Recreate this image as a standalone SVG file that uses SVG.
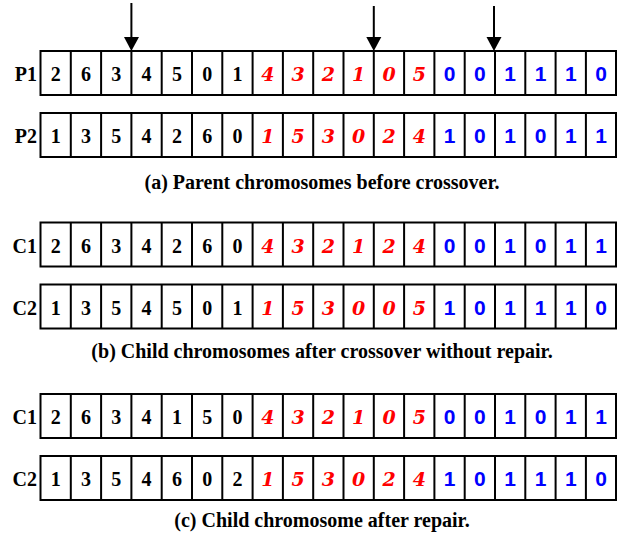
<svg xmlns="http://www.w3.org/2000/svg" xmlns:xlink="http://www.w3.org/1999/xlink" width="621" height="535" viewBox="0 0 621 535">
<style>
.cell{fill:#fff;stroke:#000;stroke-width:2}
.div{fill:none;stroke:#000;stroke-width:2}
text{text-anchor:middle}
.k{font-family:'Liberation Serif',serif;font-weight:bold;font-size:20px;fill:#000}
.r{font-family:'DejaVu Serif',serif;font-weight:bold;font-style:italic;font-size:19px;fill:#f00}
.u{font-family:'Liberation Sans',sans-serif;font-weight:bold;font-size:21px;fill:#00f}
.lab{font-family:'Liberation Serif',serif;font-weight:bold;font-size:20px;fill:#000;text-anchor:end}
.cap{font-family:'Liberation Serif',serif;font-weight:bold;font-size:20px;fill:#000}
.arr{stroke:#000;stroke-width:2}
</style>
<defs>
<g id="cells">
<rect class="cell" x="40.5" y="0" width="575.5" height="44"/>
<path class="div" d="M70.8 0V44M101.1 0V44M131.4 0V44M161.7 0V44M192 0V44M222.3 0V44M252.6 0V44M282.9 0V44M313.2 0V44M343.5 0V44M373.8 0V44M404.1 0V44M434.4 0V44M464.7 0V44M495 0V44M525.3 0V44M555.6 0V44M585.9 0V44"/>
</g>
</defs>

<g id="connectors">
<line class="arr" x1="131.4" y1="3" x2="131.4" y2="40"/>
<polygon points="124,37 139,37 131.4,51" fill="#000"/>
<line class="arr" x1="373.8" y1="6" x2="373.8" y2="40"/>
<polygon points="366.3,37 381.3,37 373.8,51" fill="#000"/>
<line class="arr" x1="494" y1="6" x2="494" y2="40"/>
<polygon points="486.5,37 501.5,37 494,51" fill="#000"/>
</g>

<g id="P1" transform="translate(0,51)">
<use xlink:href="#cells"/>
<text class="lab" x="37" y="30">P1</text>
<g class="k"><text x="55.7" y="30">2</text><text x="86" y="30">6</text><text x="116.3" y="30">3</text><text x="146.6" y="30">4</text><text x="176.9" y="30">5</text><text x="207.2" y="30">0</text><text x="237.5" y="30">1</text></g>
<g class="r"><text x="267.8" y="30">4</text><text x="298.1" y="30">3</text><text x="328.4" y="30">2</text><text x="358.7" y="30">1</text><text x="389" y="30">0</text><text x="419.3" y="30">5</text></g>
<g class="u"><text x="449.6" y="30">0</text><text x="479.9" y="30">0</text><text x="510.2" y="30">1</text><text x="540.5" y="30">1</text><text x="570.8" y="30">1</text><text x="601.1" y="30">0</text></g>
</g>

<g id="P2" transform="translate(0,113)">
<use xlink:href="#cells"/>
<text class="lab" x="37" y="30">P2</text>
<g class="k"><text x="55.7" y="30">1</text><text x="86" y="30">3</text><text x="116.3" y="30">5</text><text x="146.6" y="30">4</text><text x="176.9" y="30">2</text><text x="207.2" y="30">6</text><text x="237.5" y="30">0</text></g>
<g class="r"><text x="267.8" y="30">1</text><text x="298.1" y="30">5</text><text x="328.4" y="30">3</text><text x="358.7" y="30">0</text><text x="389" y="30">2</text><text x="419.3" y="30">4</text></g>
<g class="u"><text x="449.6" y="30">1</text><text x="479.9" y="30">0</text><text x="510.2" y="30">1</text><text x="540.5" y="30">0</text><text x="570.8" y="30">1</text><text x="601.1" y="30">1</text></g>
</g>

<text class="cap" x="322" y="189">(a) Parent chromosomes before crossover.</text>

<g id="C1b" transform="translate(0,222.5)">
<use xlink:href="#cells"/>
<text class="lab" x="37" y="30">C1</text>
<g class="k"><text x="55.7" y="30">2</text><text x="86" y="30">6</text><text x="116.3" y="30">3</text><text x="146.6" y="30">4</text><text x="176.9" y="30">2</text><text x="207.2" y="30">6</text><text x="237.5" y="30">0</text></g>
<g class="r"><text x="267.8" y="30">4</text><text x="298.1" y="30">3</text><text x="328.4" y="30">2</text><text x="358.7" y="30">1</text><text x="389" y="30">2</text><text x="419.3" y="30">4</text></g>
<g class="u"><text x="449.6" y="30">0</text><text x="479.9" y="30">0</text><text x="510.2" y="30">1</text><text x="540.5" y="30">0</text><text x="570.8" y="30">1</text><text x="601.1" y="30">1</text></g>
</g>

<g id="C2b" transform="translate(0,284.5)">
<use xlink:href="#cells"/>
<text class="lab" x="37" y="30">C2</text>
<g class="k"><text x="55.7" y="30">1</text><text x="86" y="30">3</text><text x="116.3" y="30">5</text><text x="146.6" y="30">4</text><text x="176.9" y="30">5</text><text x="207.2" y="30">0</text><text x="237.5" y="30">1</text></g>
<g class="r"><text x="267.8" y="30">1</text><text x="298.1" y="30">5</text><text x="328.4" y="30">3</text><text x="358.7" y="30">0</text><text x="389" y="30">0</text><text x="419.3" y="30">5</text></g>
<g class="u"><text x="449.6" y="30">1</text><text x="479.9" y="30">0</text><text x="510.2" y="30">1</text><text x="540.5" y="30">1</text><text x="570.8" y="30">1</text><text x="601.1" y="30">0</text></g>
</g>

<text class="cap" x="322" y="358">(b) Child chromosomes after crossover without repair.</text>

<g id="C1c" transform="translate(0,394)">
<use xlink:href="#cells"/>
<text class="lab" x="37" y="30">C1</text>
<g class="k"><text x="55.7" y="30">2</text><text x="86" y="30">6</text><text x="116.3" y="30">3</text><text x="146.6" y="30">4</text><text x="176.9" y="30">1</text><text x="207.2" y="30">5</text><text x="237.5" y="30">0</text></g>
<g class="r"><text x="267.8" y="30">4</text><text x="298.1" y="30">3</text><text x="328.4" y="30">2</text><text x="358.7" y="30">1</text><text x="389" y="30">0</text><text x="419.3" y="30">5</text></g>
<g class="u"><text x="449.6" y="30">0</text><text x="479.9" y="30">0</text><text x="510.2" y="30">1</text><text x="540.5" y="30">0</text><text x="570.8" y="30">1</text><text x="601.1" y="30">1</text></g>
</g>

<g id="C2c" transform="translate(0,456)">
<use xlink:href="#cells"/>
<text class="lab" x="37" y="30">C2</text>
<g class="k"><text x="55.7" y="30">1</text><text x="86" y="30">3</text><text x="116.3" y="30">5</text><text x="146.6" y="30">4</text><text x="176.9" y="30">6</text><text x="207.2" y="30">0</text><text x="237.5" y="30">2</text></g>
<g class="r"><text x="267.8" y="30">1</text><text x="298.1" y="30">5</text><text x="328.4" y="30">3</text><text x="358.7" y="30">0</text><text x="389" y="30">2</text><text x="419.3" y="30">4</text></g>
<g class="u"><text x="449.6" y="30">1</text><text x="479.9" y="30">0</text><text x="510.2" y="30">1</text><text x="540.5" y="30">1</text><text x="570.8" y="30">1</text><text x="601.1" y="30">0</text></g>
</g>

<text class="cap" x="322" y="527">(c) Child chromosome after repair.</text>
</svg>
